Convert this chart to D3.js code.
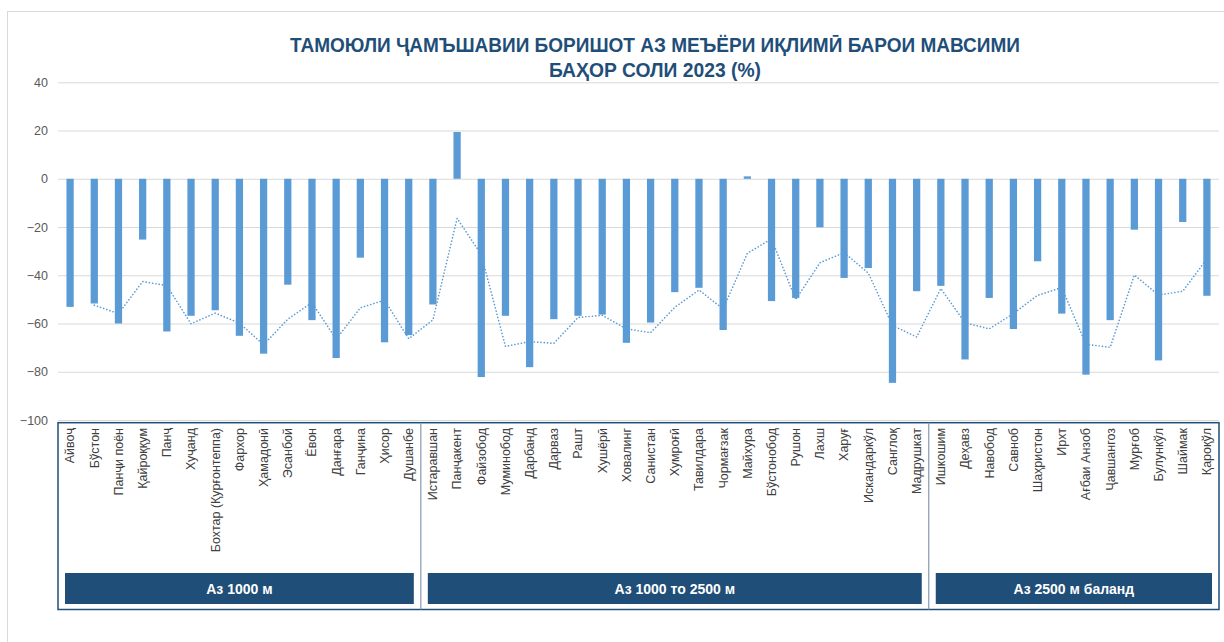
<!DOCTYPE html>
<meta charset="utf-8">
<style>
body{
  margin: 0;
  background: white;
  font-family: "Liberation Sans", Arial, sans-serif;
}
.grid line{
  stroke: #d9d9d9;
}
.grid .domain{
  display: none;
}
.y-axis text{
  fill: #595959;
  font-size: 12.5px;
}
.cat text{
  fill: #404040;
  font-size: 12.5px;
}
</style>
<div id="chart"></div>
<script src="https://cdn.jsdelivr.net/npm/d3@7"></script>
<script>
var categories = [
  'Айвоҷ', 'Бўстон', 'Панҷи поён', 'Қайроққум', 'Панҷ', 'Хуҷанд', 'Бохтар (Қурғонтеппа)',
  'Фархор', 'Ҳамадонӣ', 'Эсанбой', 'Ёвон', 'Данғара', 'Ганҷина', 'Ҳисор', 'Душанбе',
  'Истаравшан', 'Панҷакент', 'Файзобод', 'Муминобод', 'Дарбанд', 'Дарваз', 'Рашт',
  'Хушёрӣ', 'Ховалинг', 'Санистан', 'Хумроғӣ', 'Тавилдара', 'Чормағзак', 'Майхура',
  'Бўстонобод', 'Рушон', 'Лахш', 'Харуғ', 'Искандаркўл', 'Санглоқ', 'Мадрушкат',
  'Ишкошим', 'Деҳавз', 'Навобод', 'Савноб', 'Шаҳристон', 'Ирхт', 'Ағбаи Анзоб',
  'Ҷавшангоз', 'Мурғоб', 'Булункўл', 'Шаймак', 'Қароқўл'
]

// deviation from the norm, %
var values = [
  -53.1, -51.7, -60.0, -25.2, -63.3, -56.8, -54.5, -65.1, -72.5, -43.9, -58.6, -74.3, -32.7, -67.8, -64.8,
  -52.1, 19.4, -82.2, -56.8, -78.1, -58.2, -56.8, -56.3, -68.0, -59.6, -47.0, -45.2, -62.7, 1.0,
  -50.7, -49.4, -20.1, -41.1, -37.0, -84.6, -46.6,
  -44.4, -74.9, -49.4, -62.3, -34.2, -55.9, -81.2, -58.6, -21.1, -75.3, -17.9, -48.5
]

// dotted trend line (starts at the 2nd station)
var trendValues = [
  null, -52.4, -55.9, -42.6, -44.3, -60.1, -55.7, -59.8, -68.8, -58.2, -51.3, -66.5, -53.5, -50.3, -66.3,
  -58.5, -16.4, -31.4, -69.5, -67.5, -68.2, -57.5, -56.6, -62.2, -63.8, -53.3, -46.1, -54.0, -30.9,
  -24.9, -50.1, -34.8, -30.6, -39.1, -60.8, -65.6,
  -45.5, -59.7, -62.2, -55.9, -48.3, -45.1, -68.6, -69.9, -39.9, -48.2, -46.6, -33.2
]

var yTicks = [40, 20, 0, -20, -40, -60, -80, -100]

var groupNames = ['Аз 1000 м', 'Аз 1000 то 2500 м', 'Аз 2500 м баланд']
var groupSizes = [15, 21, 12]

var titleLines = [
  'ТАМОЮЛИ ҶАМЪШАВИИ БОРИШОТ АЗ МЕЪЁРИ ИҚЛИМӢ БАРОИ МАВСИМИ',
  'БАҲОР СОЛИ 2023 (%)'
]

var W = 1224, H = 642
var blue = '#5b9bd5', navy = '#1f4e79'
var plotL = 58, plotR = 1219, plotT = 82.3, plotB = 420

var svg = d3.select('#chart').append('svg')
    .attr('width', W)
    .attr('height', H)

// chart frame
svg.append('rect')
    .attr('x', 7.5).attr('y', 11.5)
    .attr('width', 1240).attr('height', 660)
    .attr('fill', 'none')
    .attr('stroke', '#d9d9d9')

var title = svg.append('g')
    .attr('fill', navy)
    .attr('font-family', '"Liberation Sans Narrow", "Arial Narrow", "Liberation Sans", sans-serif')
    .attr('font-weight', 'bold')
    .attr('font-size', 20)
    .attr('text-anchor', 'middle')

title.selectAll('text')
  .data(titleLines)
  .enter().append('text')
    .attr('x', 655)
    .attr('y', function(d, i){ return 52 + i*25 })
    .attr('textLength', function(d, i){ return i == 0 ? 730 : 212 })
    .attr('lengthAdjust', 'spacingAndGlyphs')
    .text(function(d){ return d })

var x = d3.scaleBand()
    .domain(categories)
    .range([plotL, plotR])
    .paddingInner(0.7)
    .paddingOuter(0.35)

var y = d3.scaleLinear()
    .domain([-100, 40])
    .range([plotB, plotT])

svg.append('g')
    .attr('class', 'grid')
    .attr('transform', 'translate(' + plotL + ',0)')
    .call(d3.axisLeft(y).tickValues(yTicks).tickSize(-(plotR - plotL)).tickFormat(''))

var yAxis = svg.append('g')
    .attr('class', 'y-axis')
    .attr('transform', 'translate(' + plotL + ',0)')
    .call(d3.axisLeft(y).tickValues(yTicks).tickSize(0).tickPadding(10))
yAxis.select('.domain').remove()

var data = categories.map(function(c, i){
  return {name: c, value: values[i], trend: trendValues[i]}
})

svg.append('g')
  .selectAll('rect')
  .data(data)
  .enter().append('rect')
    .attr('x', function(d){ return x(d.name) })
    .attr('width', x.bandwidth())
    .attr('y', function(d){ return y(Math.max(0, d.value)) })
    .attr('height', function(d){ return Math.abs(y(d.value) - y(0)) })
    .attr('fill', blue)

var line = d3.line()
    .defined(function(d){ return d.trend != null })
    .x(function(d){ return x(d.name) + x.bandwidth()/2 })
    .y(function(d){ return y(d.trend) })

svg.append('path')
    .datum(data)
    .attr('d', line)
    .attr('fill', 'none')
    .attr('stroke', blue)
    .attr('stroke-width', 1.6)
    .attr('stroke-linecap', 'round')
    .attr('stroke-dasharray', '0.1 3.2')

// category labels
var cat = svg.append('g')
    .attr('class', 'cat')
    .attr('transform', 'translate(0,' + plotB + ')')
    .call(d3.axisBottom(x).tickSize(0))
cat.select('.domain').remove()
cat.selectAll('text')
    .attr('transform', 'rotate(-90)')
    .attr('text-anchor', 'end')
    .attr('x', -8)
    .attr('y', 0)
    .attr('dy', '0.35em')

// group boxes
var step = x.step()
var boxTop = 422.7, boxBottom = 609.5
var groups = []
var start = 0
groupSizes.forEach(function(n, i){
  groups.push({name: groupNames[i], x0: plotL + start*step, x1: plotL + (start + n)*step})
  start += n
})

var box = svg.append('g')
box.append('rect')
    .attr('x', plotL).attr('y', boxTop)
    .attr('width', plotR - plotL).attr('height', boxBottom - boxTop)
    .attr('fill', 'none')
    .attr('stroke', navy)
    .attr('stroke-width', 1.5)

box.selectAll('line')
  .data(groups.slice(1))
  .enter().append('line')
    .attr('x1', function(d){ return d.x0 }).attr('x2', function(d){ return d.x0 })
    .attr('y1', boxTop).attr('y2', boxBottom)
    .attr('stroke', '#8497b0')
    .attr('stroke-width', 1.2)

var lab = box.selectAll('g.grp')
  .data(groups)
  .enter().append('g')
    .attr('class', 'grp')

lab.append('rect')
    .attr('x', function(d){ return d.x0 + 7 })
    .attr('width', function(d){ return d.x1 - d.x0 - 14 })
    .attr('y', 573)
    .attr('height', 31)
    .attr('fill', navy)

lab.append('text')
    .attr('x', function(d){ return (d.x0 + d.x1)/2 })
    .attr('y', 593.5)
    .attr('text-anchor', 'middle')
    .attr('fill', 'white')
    .attr('font-weight', 'bold')
    .attr('font-size', 14)
    .text(function(d){ return d.name })
</script>
